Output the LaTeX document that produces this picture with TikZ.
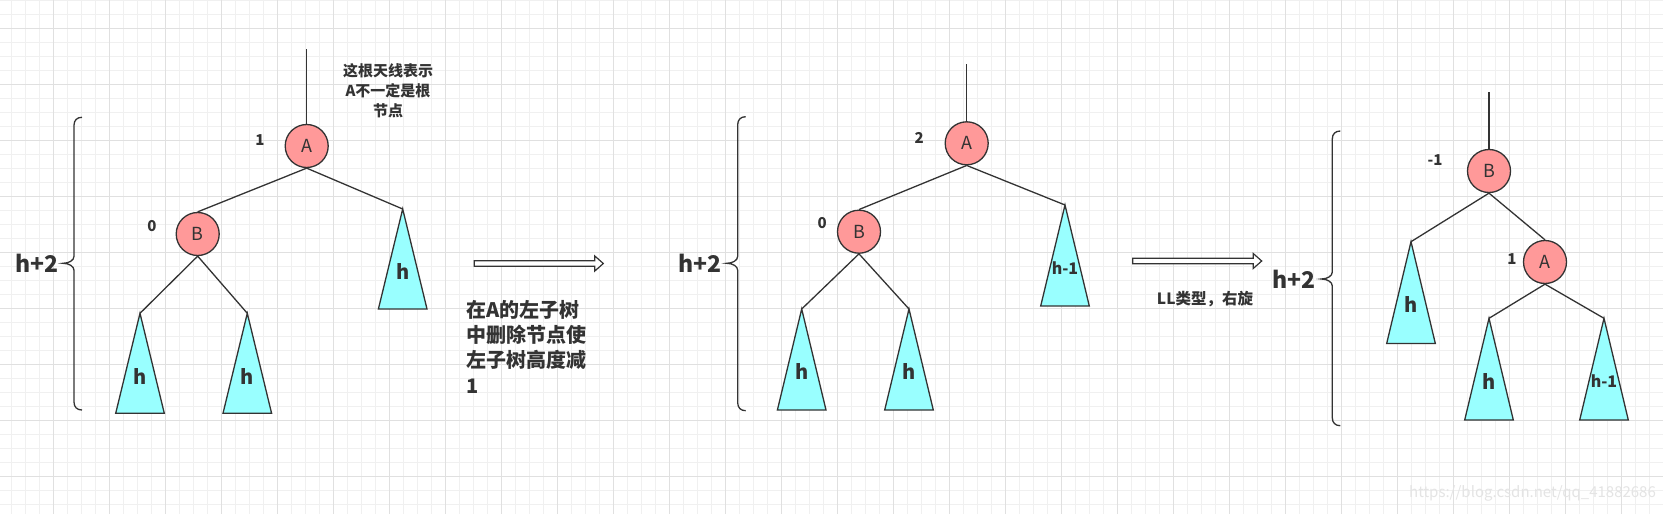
\documentclass[tikz,border=0pt]{standalone}
\usepackage{fontspec}
\setmainfont{Noto Sans CJK SC}
\definecolor{stroke}{HTML}{333333}
\definecolor{nodefill}{HTML}{FF9999}
\definecolor{trifill}{HTML}{99FFFF}
\definecolor{gridminor}{HTML}{F0F0F0}
\definecolor{gridmajor}{HTML}{E0E0E0}
\definecolor{txt}{HTML}{333333}
\definecolor{wm}{HTML}{E4E4E4}
\newcommand\subtree[6]{% name, x, y, height, label, label style
  \coordinate (#1) at (#2,#3);
  \draw[tri] (#1) -- ++(-24.3,#4) -- ++(48.6,0) -- cycle;
  \node[#6] (#1-l) at ([shift={(0,63)}]#1) {#5};}
\newcommand\curly[5]{% name, xv, ytop, ybot, ytip
  \coordinate (#1) at (#2-11,#5);
  \draw[bracestyle] (#2+8,#3) .. controls (#2+3,#3) and (#2,#3+3) .. (#2,#3+8)
    -- (#2,#5-7) .. controls (#2,#5-3) and (#2-5,#5) .. (#1)
    .. controls (#2-5,#5) and (#2,#5+3) .. (#2,#5+7)
    -- (#2,#4-8) .. controls (#2,#4-3) and (#2+3,#4) .. (#2+8,#4);}
\newcommand\hollowarrow[4]{% name, x start, x end, y
  \coordinate (#1s) at (#2,#4);
  \coordinate (#1e) at (#3,#4);
  \draw[arrowbody] (#1s) ++(0,-2.7) -- ([shift={(-8.5,-2.7)}]#1e) -- ([shift={(-8.5,-7.5)}]#1e)
    -- (#1e) -- ([shift={(-8.5,7.5)}]#1e) -- ([shift={(-8.5,2.7)}]#1e) -- ([shift={(0,2.7)}]#1s) -- cycle;}
\begin{document}
\begin{tikzpicture}[x=1pt,y=-1pt,
  avl/.style={circle, draw=stroke, fill=nodefill, line width=1.3pt, minimum size=43pt,
    inner sep=0pt, font=\fontsize{18}{18}\selectfont, text=txt},
  edge/.style={draw=stroke, line width=1.3pt},
  tri/.style={draw=stroke, fill=trifill, line width=1.3pt, line join=miter},
  bal/.style={font=\bfseries\fontsize{15}{15}\selectfont, text=txt, inner sep=0pt},
  hlab/.style={font=\bfseries\fontsize{20}{20}\selectfont, text=txt, inner sep=0pt},
  hmlab/.style={font=\bfseries\fontsize{16}{16}\selectfont, text=txt, inner sep=0pt},
  height/.style={font=\bfseries\fontsize{23}{23}\selectfont, text=txt, inner sep=0pt},
  bracestyle/.style={draw=stroke, line width=1.3pt},
  arrowbody/.style={draw=stroke, fill=white, line width=1.2pt, line join=miter},
  note/.style={text=txt, align=center, inner sep=0pt},
  gmin/.style={draw=gridminor, line width=1pt},
  gmaj/.style={draw=gridmajor, line width=1pt}]
\useasboundingbox (0,0) rectangle (1663,514);
\fill[white] (0,0) rectangle (1663,514);
% grid
\foreach \i in {0,...,118} \draw[gmin] (11.7+14*\i,0) -- (11.7+14*\i,514);
\foreach \j in {0,...,36} \draw[gmin] (0,0.3+14*\j) -- (1663,0.3+14*\j);
\foreach \i in {0,...,28} \draw[gmaj] (53.7+56*\i,0) -- (53.7+56*\i,514);
\foreach \j in {0,...,8} \draw[gmaj] (0,28.3+56*\j) -- (1663,28.3+56*\j);

% ---------- diagram 1 ----------
\coordinate (ant1) at (306.7,49.3);
\node[avl] (A1) at (306.7,146) {A};
\node[avl] (B1) at (197.7,234) {B};
\subtree{t11}{140}{313.3}{100}{h}{hlab}
\subtree{t12}{247.3}{313.3}{100}{h}{hlab}
\subtree{t13}{402.7}{209}{100}{h}{hlab}
\draw[edge] (ant1) -- (A1.north);
\draw[edge] (A1.south) -- (B1.north);
\draw[edge] (A1.south) -- (t13);
\draw[edge] (B1.south) -- (t11);
\draw[edge] (B1.south) -- (t12);
\node[bal] (bA1) at (260,140) {1};
\node[bal] (bB1) at (152,226) {0};
\node[note, font=\bfseries\fontsize{15}{20.2}\selectfont] (ann) at (388,91)
  {这根天线表示\\A不一定是根\\节点};
\curly{br1}{74}{117.3}{410}{263.3}
\node[height] (h1) at (36.7,263.3) {h+2};

% arrow 1 and explanation
\hollowarrow{ar1}{474.3}{603.3}{263.5}
\node[text=txt, align=left, inner sep=0pt, anchor=west,
  font=\bfseries\fontsize{20}{25.3}\selectfont] (expl) at (466.5,346.5)
  {在A的左子树\\中删除节点使\\左子树高度减\\1};

% ---------- diagram 2 ----------
\coordinate (ant2) at (966.7,64);
\node[avl] (A2) at (966.7,143.3) {A};
\node[avl] (B2) at (859,231.7) {B};
\subtree{t21}{801.7}{309}{101}{h}{hlab}
\subtree{t22}{909}{309}{101}{h}{hlab}
\subtree{t23}{1065}{205}{101}{h-1}{hmlab}
\draw[edge] (ant2) -- (A2.north);
\draw[edge] (A2.south) -- (B2.north);
\draw[edge] (A2.south) -- (t23);
\draw[edge] (B2.south) -- (t21);
\draw[edge] (B2.south) -- (t22);
\node[bal] (bA2) at (919.3,138.3) {2};
\node[bal] (bB2) at (822.3,223.3) {0};
\curly{br2}{737.7}{116.7}{410.7}{263.3}
\node[height] (h2) at (699.7,263.3) {h+2};

% arrow 2
\hollowarrow{ar2}{1132.7}{1261.7}{261}
\node[text=txt, inner sep=0pt, font=\bfseries\fontsize{15.5}{15.5}\selectfont] (ll) at (1205,299.3) {LL类型，右旋};

% ---------- diagram 3 ----------
\coordinate (ant3) at (1489,92.3);
\node[avl] (B3) at (1489,171) {B};
\node[avl] (A3) at (1545,262) {A};
\subtree{t31}{1411}{241.7}{101.7}{h}{hlab}
\subtree{t32}{1489}{318.3}{101.7}{h}{hlab}
\subtree{t33}{1604}{318.3}{101.7}{h-1}{hmlab}
\draw[edge] (ant3) -- (B3.north);
\draw[edge] (B3.south) -- (t31);
\draw[edge] (B3.south) -- (A3.north);
\draw[edge] (A3.south) -- (t32);
\draw[edge] (A3.south) -- (t33);
\node[bal] (bB3) at (1435,160) {-1};
\node[bal] (bA3) at (1512,259) {1};
\curly{br3}{1332.3}{131}{425.7}{279}
\node[height] (h3) at (1294,279) {h+2};

% watermark
\node[text=wm, inner sep=0pt, font=\fontsize{15}{15}\selectfont] (wmk) at (1532.5,493.3) {https://blog.csdn.net/qq\_41882686};
\end{tikzpicture}
\end{document}
